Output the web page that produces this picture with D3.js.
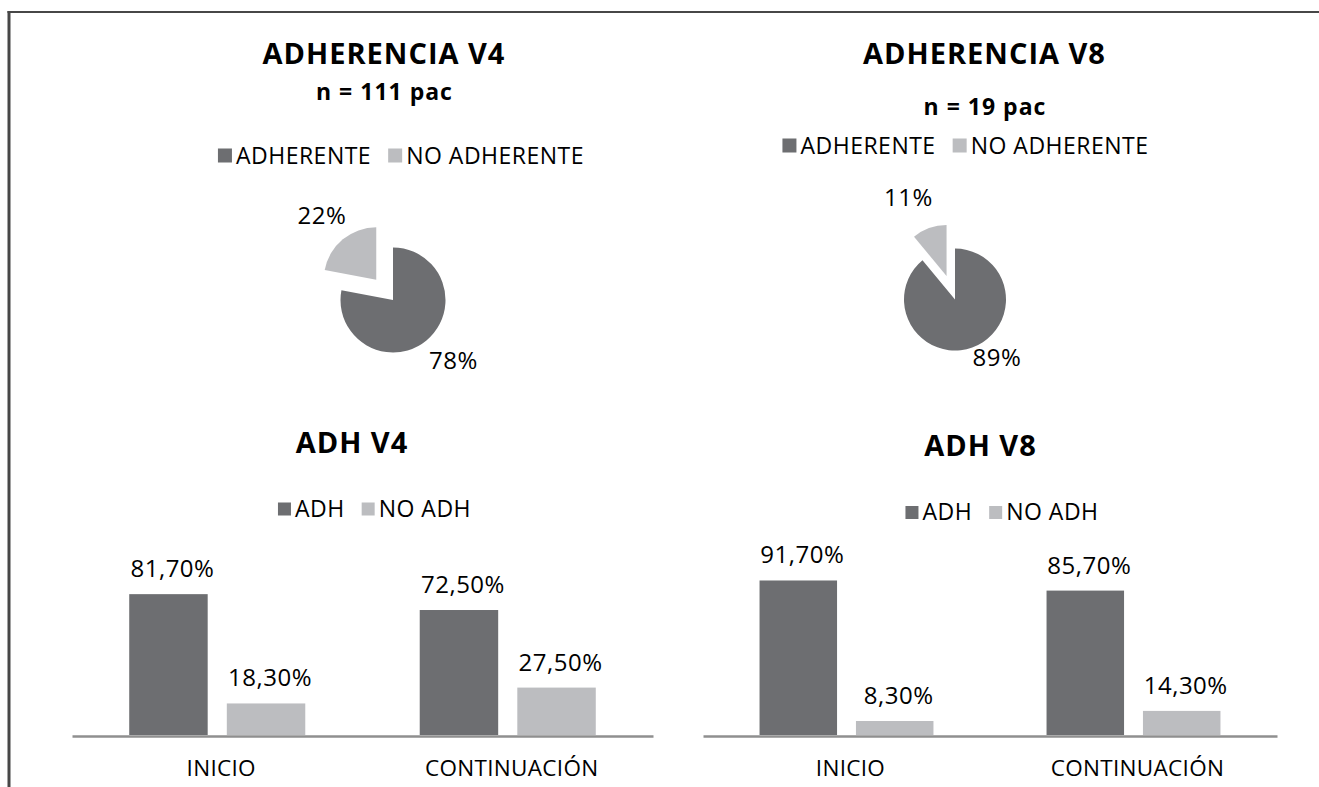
<!DOCTYPE html>
<html>
<head>
<meta charset="utf-8">
<script src="https://cdn.jsdelivr.net/npm/d3@7"></script>
<style>
  body { margin: 0; background: #fff; }
  text { font-family: "Open Sans", sans-serif; fill: #000; }
</style>
</head>
<body>
<svg width="1319" height="787"></svg>
<script>
// values
var pieSeries = ["ADHERENTE", "NO ADHERENTE"];
var pieV4 = [78, 22];
var pieV8 = [89, 11];

var barSeries = ["ADH", "NO ADH"];
var barCategories = ["INICIO", "CONTINUACIÓN"];
var barV4Adh = [81.7, 72.5];
var barV4NoAdh = [18.3, 27.5];
var barV8Adh = [91.7, 85.7];
var barV8NoAdh = [8.3, 14.3];

var colors = ["#6d6e71", "#bcbdc0"];

var svg = d3.select("svg");
var es = d3.formatLocale({decimal: ",", thousands: ".", grouping: [3], currency: ["", " €"]});
var fmtBar = es.format(".2f"),
    fmtPie = es.format(".0f");

// frame
svg.append("line").attr("x1", 9).attr("x2", 9).attr("y1", 11).attr("y2", 787)
  .attr("stroke", "#474747").attr("stroke-width", 3);
svg.append("line").attr("x1", 7.5).attr("x2", 1319).attr("y1", 12).attr("y2", 12)
  .attr("stroke", "#474747").attr("stroke-width", 2);

function title(txt, cx, y, size, spacing) {
  svg.append("text")
    .attr("x", cx).attr("y", y)
    .attr("text-anchor", "middle")
    .attr("font-size", size)
    .attr("font-weight", "bold")
    .attr("letter-spacing", spacing + "px")
    .text(txt);
}

function legend(keys, cx, baseline, sw) {
  var g = svg.append("g");
  var items = g.selectAll("g").data(keys).enter().append("g");
  items.append("rect")
    .attr("y", baseline - sw - 1)
    .attr("width", sw).attr("height", sw)
    .attr("fill", function(d, i) { return colors[i]; });
  items.append("text")
    .attr("x", sw + 4).attr("y", baseline)
    .attr("font-size", 23)
    .attr("letter-spacing", "0.5px")
    .text(function(d) { return d; });
  var x = 0;
  items.each(function() {
    var w = this.getBBox().width;
    d3.select(this).attr("transform", "translate(" + x + ",0)");
    x += w + 17;
  });
  x -= 17;
  g.attr("transform", "translate(" + (cx - x / 2) + ",0)");
}

function pieChart(o) {
  var arcs = d3.pie().sort(null)(o.values);
  var arc = d3.arc().innerRadius(0).outerRadius(o.r);
  var g = svg.append("g").attr("transform", "translate(" + o.cx + "," + o.cy + ")");

  function shift(d, i) {
    var a = (d.startAngle + d.endAngle) / 2, e = o.explode[i] * o.r;
    return "translate(" + (Math.sin(a) * e) + "," + (-Math.cos(a) * e) + ")";
  }

  g.selectAll("path")
    .data(arcs)
    .enter().append("path")
      .attr("d", arc)
      .attr("transform", shift)
      .attr("fill", function(d, i) { return colors[i]; });

  g.selectAll("text.lbl")
    .data(arcs)
    .enter().append("text")
      .attr("class", "lbl")
      .attr("x", function(d, i) { return o.labelAt[i][0]; })
      .attr("y", function(d, i) { return o.labelAt[i][1]; })
      .attr("text-anchor", "middle")
      .attr("font-size", 24)
      .attr("letter-spacing", "0.5px")
      .text(function(d) { return fmtPie(d.value) + "%"; });
}

function barChart(o) {
  var rows = barCategories.map(function(c, i) { return {cat: c, values: [o.adh[i], o.noadh[i]]}; });

  var x0 = d3.scaleBand()
    .domain(barCategories)
    .range([o.x0, o.x1])
    .paddingInner(0.394)
    .paddingOuter(0.197);

  var x1 = d3.scaleBand()
    .domain(barSeries)
    .range([0, x0.bandwidth()])
    .paddingInner(0.196);

  var y = d3.scaleLinear()
    .domain([0, 100])
    .range([o.base, o.top]);

  var groups = svg.append("g")
    .selectAll("g")
    .data(rows)
    .enter().append("g")
      .attr("transform", function(d) { return "translate(" + x0(d.cat) + ",0)"; });

  groups.selectAll("rect")
    .data(function(d) { return d.values; })
    .enter().append("rect")
      .attr("x", function(d, i) { return x1(barSeries[i]); })
      .attr("y", function(d) { return y(d); })
      .attr("width", x1.bandwidth())
      .attr("height", function(d) { return y(0) - y(d); })
      .attr("fill", function(d, i) { return colors[i]; });

  groups.selectAll("text")
    .data(function(d) { return d.values; })
    .enter().append("text")
      .attr("x", function(d, i) { return x1(barSeries[i]) + x1.bandwidth() / 2 + 4; })
      .attr("y", function(d) { return y(d) - 17; })
      .attr("text-anchor", "middle")
      .attr("font-size", 24)
      .attr("letter-spacing", "0.5px")
      .text(function(d) { return fmtBar(d) + "%"; });

  var ax = svg.append("g")
    .attr("transform", "translate(0," + (o.base + 1) + ")")
    .call(d3.axisBottom(x0).tickSize(0).tickSizeOuter(0));
  ax.select(".domain").attr("stroke", "#8f8f8f").attr("stroke-width", 2.5);
  ax.selectAll(".tick text")
    .attr("x", 4)
    .attr("y", 40)
    .attr("dy", 0)
    .attr("font-size", 22.5)
    .attr("font-family", "Open Sans, sans-serif")
    .attr("letter-spacing", "0.3px")
    .attr("fill", "#000");
}

// ADHERENCIA V4
title("ADHERENCIA V4", 384, 63.5, 29, 1);
title("n = 111 pac", 384.5, 100, 23, 1);
legend(pieSeries, 401, 163.5, 14);
pieChart({values: pieV4, cx: 393, cy: 300, r: 52.5, explode: [0, 0.5],
  labelAt: [[60.5, 69], [-71, -76]]});

// ADHERENCIA V8
title("ADHERENCIA V8", 984.5, 63.5, 29, 1);
title("n = 19 pac", 985, 115, 23, 1);
legend(pieSeries, 965.5, 153.5, 14);
pieChart({values: pieV8, cx: 955, cy: 299.5, r: 51, explode: [0, 0.49],
  labelAt: [[42, 66.5], [-46.5, -93.5]]});

// ADH V4
title("ADH V4", 352, 452.5, 29, 1);
legend(barSeries, 374.5, 516.5, 13);
barChart({adh: barV4Adh, noadh: barV4NoAdh, x0: 72, x1: 653, base: 735, top: 562.6});

// ADH V8
title("ADH V8", 980.5, 456, 29, 1);
legend(barSeries, 1002, 520, 13);
barChart({adh: barV8Adh, noadh: barV8NoAdh, x0: 703, x1: 1277, base: 735, top: 566.5});
</script>
</body>
</html>
